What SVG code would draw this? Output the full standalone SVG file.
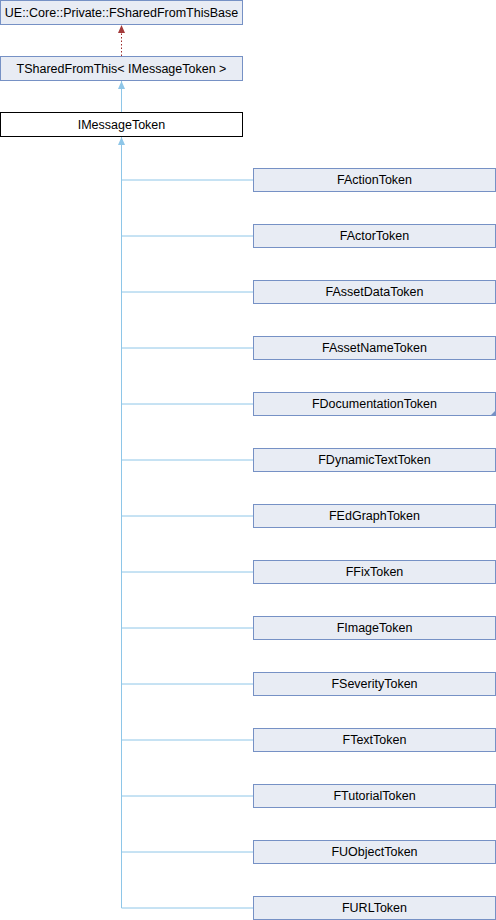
<svg xmlns="http://www.w3.org/2000/svg" width="496" height="920" viewBox="0 0 496 920">
<style>
.n rect{fill:#e8ecf4;stroke:#7691c5;stroke-width:1}
.n.cur rect{fill:#ffffff;stroke:#000000}
text{font-family:"Liberation Sans",Arial,sans-serif;font-size:12.5px;fill:#000;text-anchor:middle}
.e{fill:none;stroke:#8ec6e8;stroke-width:1}
.d{fill:none;stroke:#9a2a2a;stroke-width:1;stroke-dasharray:1.5,2}
</style>
<defs>
<marker id="ab" viewBox="0 0 8 8" refX="8" refY="4" markerWidth="8" markerHeight="8" markerUnits="userSpaceOnUse" orient="auto"><path d="M0,0.5 L8,4 L0,7.5 Z" fill="#8ec6e8"/></marker>
<marker id="ar" viewBox="0 0 8 8" refX="8" refY="4" markerWidth="8" markerHeight="8" markerUnits="userSpaceOnUse" orient="auto"><path d="M0,0.5 L8,4 L0,7.5 Z" fill="#a33a3a"/></marker>
</defs>
<g id="connectors">
<path class="d" d="M121.5,56 V25" marker-end="url(#ar)"/>
<path class="e" d="M121.5,112 V81" marker-end="url(#ab)"/>
<path class="e" d="M121.5,908 V137" marker-end="url(#ab)"/>
<path class="e" d="M121.5,180 H253.5 M121.5,236 H253.5 M121.5,292 H253.5 M121.5,348 H253.5 M121.5,404 H253.5 M121.5,460 H253.5 M121.5,516 H253.5 M121.5,572 H253.5 M121.5,628 H253.5 M121.5,684 H253.5 M121.5,740 H253.5 M121.5,796 H253.5 M121.5,852 H253.5 M121.5,908 H253.5"/>
</g>
<g id="n_base" class="n"><rect x="0.5" y="0.5" width="242" height="24"/><text x="121.5" y="16.5">UE::Core::Private::FSharedFromThisBase</text></g>
<g id="n_tshared" class="n"><rect x="0.5" y="56.5" width="242" height="24"/><text x="121.5" y="72.5">TSharedFromThis&lt; IMessageToken &gt;</text></g>
<g id="n_imessage" class="n cur"><rect x="0.5" y="112.5" width="242" height="24"/><text x="121.5" y="128.5">IMessageToken</text></g>
<g id="n_action" class="n"><rect x="253.5" y="168.5" width="242" height="23"/><text x="374.5" y="183.5">FActionToken</text></g>
<g id="n_actor" class="n"><rect x="253.5" y="224.5" width="242" height="23"/><text x="374.5" y="239.5">FActorToken</text></g>
<g id="n_assetdata" class="n"><rect x="253.5" y="280.5" width="242" height="23"/><text x="374.5" y="295.5">FAssetDataToken</text></g>
<g id="n_assetname" class="n"><rect x="253.5" y="336.5" width="242" height="23"/><text x="374.5" y="351.5">FAssetNameToken</text></g>
<g id="n_doc" class="n"><rect x="253.5" y="392.5" width="242" height="23"/><path d="M496,410 V416 H490 Z" fill="#7691c5"/><text x="374.5" y="407.5">FDocumentationToken</text></g>
<g id="n_dyn" class="n"><rect x="253.5" y="448.5" width="242" height="23"/><text x="374.5" y="463.5">FDynamicTextToken</text></g>
<g id="n_edgraph" class="n"><rect x="253.5" y="504.5" width="242" height="23"/><text x="374.5" y="519.5">FEdGraphToken</text></g>
<g id="n_fix" class="n"><rect x="253.5" y="560.5" width="242" height="23"/><text x="374.5" y="575.5">FFixToken</text></g>
<g id="n_image" class="n"><rect x="253.5" y="616.5" width="242" height="23"/><text x="374.5" y="631.5">FImageToken</text></g>
<g id="n_severity" class="n"><rect x="253.5" y="672.5" width="242" height="23"/><text x="374.5" y="687.5">FSeverityToken</text></g>
<g id="n_text" class="n"><rect x="253.5" y="728.5" width="242" height="23"/><text x="374.5" y="743.5">FTextToken</text></g>
<g id="n_tutorial" class="n"><rect x="253.5" y="784.5" width="242" height="23"/><text x="374.5" y="799.5">FTutorialToken</text></g>
<g id="n_uobject" class="n"><rect x="253.5" y="840.5" width="242" height="23"/><text x="374.5" y="855.5">FUObjectToken</text></g>
<g id="n_url" class="n"><rect x="253.5" y="896.5" width="242" height="23"/><text x="374.5" y="911.5">FURLToken</text></g>
</svg>
